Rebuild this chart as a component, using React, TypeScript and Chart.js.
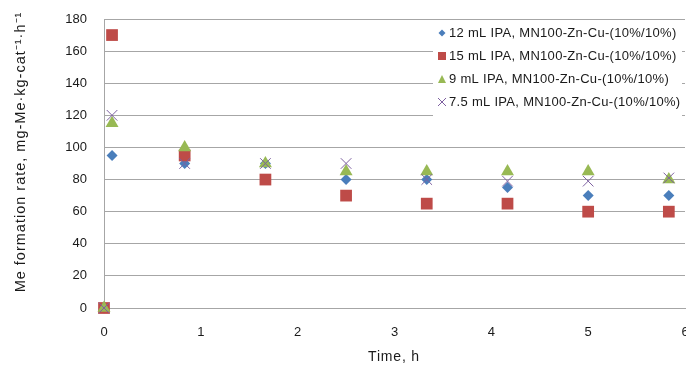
import React, { useEffect, useRef } from 'react';
import { Chart, registerables } from 'chart.js';

Chart.register(...registerables);

const timeH = [0, 0.083, 0.833, 1.667, 2.5, 3.333, 4.167, 5, 5.833];
const ipa12 = [0, 95, 90, 90, 80, 80, 75, 70, 70];
const ipa15 = [0, 170, 95, 80, 70, 65, 65, 60, 60];
const ipa9 = [0, 115, 100, 90, 85, 85, 85, 85, 80];
const ipa75 = [0, 120, 90, 90, 90, 80, 79, 79, 81];
const seriesLabels = [
  '12 mL IPA, MN100-Zn-Cu-(10%/10%)',
  '15 mL IPA, MN100-Zn-Cu-(10%/10%)',
  '9 mL IPA, MN100-Zn-Cu-(10%/10%)',
  '7.5 mL IPA, MN100-Zn-Cu-(10%/10%)',
];
const xTitle = 'Time, h';
const yTitle = 'Me formation rate, mg-Me\u00B7kg-cat\u207B\u00B9\u00B7h\u207B\u00B9';

const FONT = '"Liberation Sans", Arial, sans-serif';
const colors = ['#4a7ebb', '#be4b48', '#98b954', '#7d60a0'];
const styles = ['rectRot', 'rect', 'triangle', 'crossRot'];
const radii = [5.5, 8.3, 7.5, 7.5];

function drawMarker(ctx: CanvasRenderingContext2D, i: number, x: number, y: number, s: number) {
  ctx.save();
  ctx.fillStyle = colors[i];
  ctx.strokeStyle = colors[i];
  ctx.beginPath();
  if (i === 0) {
    ctx.moveTo(x, y - s);
    ctx.lineTo(x + s, y);
    ctx.lineTo(x, y + s);
    ctx.lineTo(x - s, y);
    ctx.closePath();
    ctx.fill();
  } else if (i === 1) {
    ctx.rect(x - s, y - s, 2 * s, 2 * s);
    ctx.fill();
  } else if (i === 2) {
    ctx.moveTo(x, y - s);
    ctx.lineTo(x + s, y + s);
    ctx.lineTo(x - s, y + s);
    ctx.closePath();
    ctx.fill();
  } else {
    ctx.lineWidth = 1;
    ctx.moveTo(x - s, y - s);
    ctx.lineTo(x + s, y + s);
    ctx.moveTo(x + s, y - s);
    ctx.lineTo(x - s, y + s);
    ctx.stroke();
  }
  ctx.restore();
}

// Pin the plot area to the reference frame after Chart.js has laid out the boxes.
const frameHolder = {
  id: 'frameHolder',
  afterLayout(chart: any) {
    const area = chart.chartArea;
    const xs = chart.scales.x;
    const ys = chart.scales.y;
    area.right = 685;
    area.top = 19;
    area.width = area.right - area.left;
    area.height = area.bottom - area.top;
    xs.right = 685;
    xs.width = xs.right - xs.left;
    xs.configure();
    ys.top = 19;
    ys.height = ys.bottom - ys.top;
    ys.configure();
  },
};

const overlayPlugin = {
  id: 'overlay',
  afterDraw(chart: any) {
    const ctx: any = chart.ctx;
    ctx.save();
    ctx.fillStyle = '#ffffff';
    ctx.fillRect(433, 22, 249, 96);
    ctx.font = `13px ${FONT}`;
    ctx.letterSpacing = '0.3px';
    ctx.fillStyle = '#1a1a1a';
    ctx.textBaseline = 'middle';
    ctx.textAlign = 'left';
    const rowsY = [33, 56, 79, 102];
    seriesLabels.forEach((lab, i) => {
      drawMarker(ctx, i, 442, rowsY[i], i === 0 ? 3.5 : 4);
      ctx.fillText(lab, 449, rowsY[i]);
    });
    ctx.fillStyle = '#1a1a1a';
    ctx.font = `14px ${FONT}`;
    ctx.letterSpacing = '0.8px';
    ctx.textAlign = 'center';
    ctx.fillText(xTitle, 394, 357);
    ctx.save();
    ctx.translate(21, 152);
    ctx.rotate(-Math.PI / 2);
    ctx.font = `14.5px ${FONT}`;
    ctx.letterSpacing = '1px';
    ctx.fillText(yTitle, 0, 0);
    ctx.restore();
    ctx.restore();
  },
};

export default function App() {
  const ref = useRef<HTMLCanvasElement | null>(null);
  useEffect(() => {
    document.body.style.margin = '0';
    const canvas = ref.current!;
    const datasets = [ipa12, ipa15, ipa9, ipa75].map((vals, i) => ({
      label: seriesLabels[i],
      data: vals.map((v, j) => ({ x: timeH[j], y: v })),
      pointStyle: styles[i],
      pointRadius: radii[i],
      pointHoverRadius: radii[i],
      backgroundColor: colors[i],
      borderColor: colors[i],
      pointBorderWidth: i === 3 ? 1 : 0,
      showLine: false,
      clip: false,
      order: 3 - i,
    }));
    const chart = new Chart(canvas, {
      type: 'scatter',
      data: { datasets },
      plugins: [frameHolder, overlayPlugin],
      options: {
        animation: false,
        responsive: false,
        devicePixelRatio: 1,
        layout: { padding: { top: 19, right: 1, left: 0, bottom: 0 } },
        plugins: { legend: { display: false }, tooltip: { enabled: false } },
        scales: {
          x: {
            type: 'linear',
            min: 0,
            max: 6,
            afterFit: (s: any) => { s.height = 57; },
            ticks: { stepSize: 1, color: '#1a1a1a', font: { family: FONT, size: 13 }, padding: 17 },
            grid: { display: false, drawTicks: false },
            border: { display: true, color: '#a6a6a6', width: 1 },
          },
          y: {
            min: 0,
            max: 180,
            afterFit: (s: any) => { s.width = 104; },
            ticks: { stepSize: 20, color: '#1a1a1a', font: { family: FONT, size: 13 }, padding: 17 },
            grid: { display: true, color: '#a6a6a6', lineWidth: 1, drawTicks: false },
            border: { display: true, color: '#a6a6a6', width: 1 },
          },
        },
      },
    });
    return () => chart.destroy();
  }, []);
  return (
    <div style={{ width: 686, height: 365, background: '#fff' }}>
      <canvas ref={ref} width={686} height={365} style={{ display: 'block' }} />
    </div>
  );
}
